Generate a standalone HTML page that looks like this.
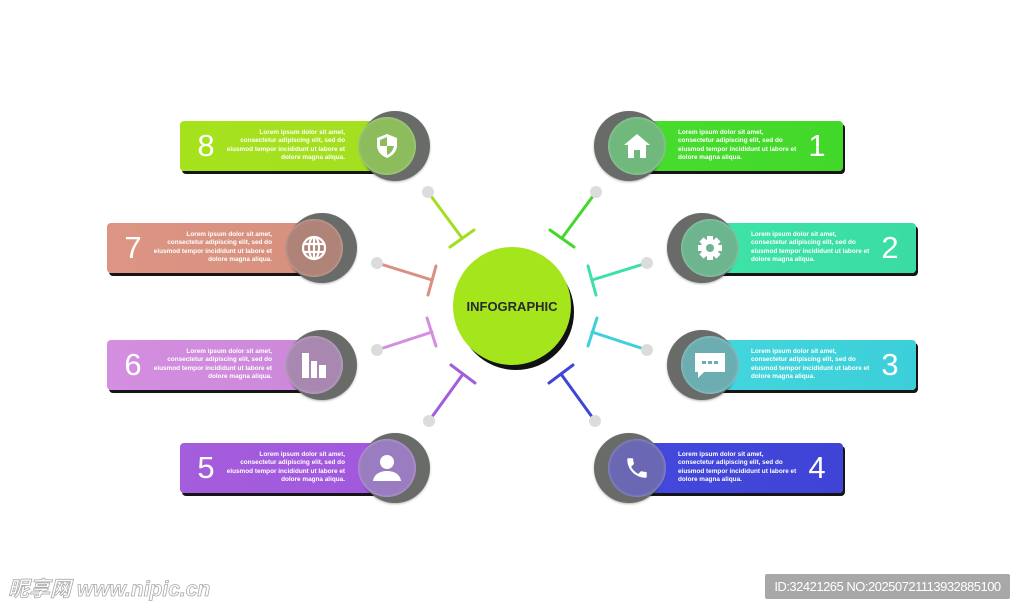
<!DOCTYPE html>
<html><head><meta charset="utf-8"><style>
body{margin:0;width:1024px;height:614px;background:#fff;position:relative;overflow:hidden;font-family:"Liberation Sans",sans-serif}
.card{position:absolute;height:50px;border-radius:4px;box-shadow:2px 3px 0 #151515;color:#fff}
.txt{position:absolute;top:8px;font-size:6.4px;font-weight:bold;line-height:8.4px;white-space:nowrap}
.num{position:absolute;top:6px;font-size:31px;line-height:38px;color:#fff;width:24px;text-align:center}
.oc{position:absolute;width:70px;height:70px;border-radius:50%;background:#696b69;box-shadow:0 1px 2px rgba(0,0,0,.3)}
.ic{position:absolute;width:58px;height:58px;border-radius:50%;display:flex;align-items:center;justify-content:center;box-shadow:0 0 3px rgba(255,255,255,.4) inset}
</style></head><body>

<svg style="position:absolute;left:0;top:0" width="1024" height="614">
<circle cx="516" cy="312" r="58" fill="#111"/>
<circle cx="512" cy="306" r="59" fill="#a4e51c"/>
<text x="512" y="311" text-anchor="middle" font-family="Liberation Sans" font-weight="bold" font-size="13" fill="#2a2a2a">INFOGRAPHIC</text>
<g stroke-width="3" stroke-linecap="round" fill="none">
<g stroke="#44d82c"><line x1="596" y1="192" x2="562" y2="238"/><line x1="574" y1="247" x2="550" y2="230"/></g>
<g stroke="#3de0a8"><line x1="647" y1="263" x2="592" y2="280"/><line x1="596" y1="295" x2="588" y2="266"/></g>
<g stroke="#3fd0dc"><line x1="647" y1="350" x2="592" y2="332"/><line x1="588" y1="346" x2="597" y2="318"/></g>
<g stroke="#3f46d6"><line x1="595" y1="421" x2="561" y2="374"/><line x1="549" y1="383" x2="573" y2="365"/></g>
<g stroke="#a4dd20"><line x1="428" y1="192" x2="462" y2="238"/><line x1="450" y1="247" x2="474" y2="230"/></g>
<g stroke="#d89080"><line x1="377" y1="263" x2="432" y2="280"/><line x1="428" y1="295" x2="436" y2="266"/></g>
<g stroke="#d48ee0"><line x1="377" y1="350" x2="432" y2="332"/><line x1="436" y1="346" x2="427" y2="318"/></g>
<g stroke="#a25ddc"><line x1="429" y1="421" x2="463" y2="374"/><line x1="475" y1="383" x2="451" y2="365"/></g>
</g>
<g fill="#dcdcdc"><circle cx="596" cy="192" r="6"/><circle cx="647" cy="263" r="6"/><circle cx="647" cy="350" r="6"/><circle cx="595" cy="421" r="6"/><circle cx="428" cy="192" r="6"/><circle cx="377" cy="263" r="6"/><circle cx="377" cy="350" r="6"/><circle cx="429" cy="421" r="6"/></g>
</svg>

<!-- Left cards -->
<div class="card" style="left:180px;top:121px;width:215px;background:linear-gradient(90deg,#a6e21c,#a4df20)"><div class="num" style="left:14px">8</div><div class="txt" style="right:50px;text-align:right">Lorem ipsum dolor sit amet,<br>consectetur adipiscing elit, sed do<br>eiusmod tempor incididunt ut labore et<br>dolore magna aliqua.</div></div>
<div class="oc" style="left:360px;top:111px"></div>
<div class="ic" style="left:358px;top:117px;background:#8cbc5c"><svg width="24" height="26" viewBox="0 0 24 26"><path d="M12 1L2 5v7c0 7 5 11 10 13 5-2 10-6 10-13V5z" fill="#fff"/><path d="M12 4v9H5c0-1 0-1 0-1V7zM12 13h7c-1 5-4 8-7 9z" fill="#8cbc5c"/></svg></div>

<div class="card" style="left:107px;top:223px;width:215px;background:linear-gradient(90deg,#dc9484,#d8907e)"><div class="num" style="left:14px">7</div><div class="txt" style="right:50px;text-align:right">Lorem ipsum dolor sit amet,<br>consectetur adipiscing elit, sed do<br>eiusmod tempor incididunt ut labore et<br>dolore magna aliqua.</div></div>
<div class="oc" style="left:287px;top:213px"></div>
<div class="ic" style="left:285px;top:219px;background:#b08378"><svg width="28" height="28" viewBox="0 0 28 28" fill="none" stroke="#fff" stroke-width="2.2"><circle cx="14" cy="14" r="11"/><ellipse cx="14" cy="14" rx="5" ry="11"/><line x1="3" y1="10" x2="25" y2="10"/><line x1="3" y1="18" x2="25" y2="18"/><line x1="14" y1="3" x2="14" y2="25"/></svg></div>

<div class="card" style="left:107px;top:340px;width:215px;background:linear-gradient(90deg,#d48ee0,#cc88da)"><div class="num" style="left:14px">6</div><div class="txt" style="right:50px;text-align:right">Lorem ipsum dolor sit amet,<br>consectetur adipiscing elit, sed do<br>eiusmod tempor incididunt ut labore et<br>dolore magna aliqua.</div></div>
<div class="oc" style="left:287px;top:330px"></div>
<div class="ic" style="left:285px;top:336px;background:#a888b0"><svg width="28" height="28" viewBox="0 0 28 28" fill="#fff"><rect x="2" y="2" width="7" height="25"/><rect x="11" y="10" width="6" height="17"/><rect x="19" y="14" width="7" height="13"/></svg></div>

<div class="card" style="left:180px;top:443px;width:215px;background:linear-gradient(90deg,#a45ddc,#a258de)"><div class="num" style="left:14px">5</div><div class="txt" style="right:50px;text-align:right">Lorem ipsum dolor sit amet,<br>consectetur adipiscing elit, sed do<br>eiusmod tempor incididunt ut labore et<br>dolore magna aliqua.</div></div>
<div class="oc" style="left:360px;top:433px"></div>
<div class="ic" style="left:358px;top:439px;background:#9a7cc0"><svg width="30" height="28" viewBox="0 0 30 28" fill="#fff"><circle cx="15" cy="8" r="7"/><path d="M1 27c1-7 7-10 14-10s13 3 14 10z"/></svg></div>

<!-- Right cards -->
<div class="card" style="left:629px;top:121px;width:214px;background:linear-gradient(90deg,#48dc2e,#42d82a)"><div class="num" style="left:176px">1</div><div class="txt" style="left:49px">Lorem ipsum dolor sit amet,<br>consectetur adipiscing elit, sed do<br>eiusmod tempor incididunt ut labore et<br>dolore magna aliqua.</div></div>
<div class="oc" style="left:594px;top:111px"></div>
<div class="ic" style="left:608px;top:117px;background:#70b87c"><svg width="28" height="26" viewBox="0 0 28 26" fill="#fff"><path d="M14 1L1 12h4v13h6v-8h6v8h6V12h4z"/></svg></div>

<div class="card" style="left:702px;top:223px;width:214px;background:linear-gradient(90deg,#3ee4a8,#3adca4)"><div class="num" style="left:176px">2</div><div class="txt" style="left:49px">Lorem ipsum dolor sit amet,<br>consectetur adipiscing elit, sed do<br>eiusmod tempor incididunt ut labore et<br>dolore magna aliqua.</div></div>
<div class="oc" style="left:667px;top:213px"></div>
<div class="ic" style="left:681px;top:219px;background:#6cb58e"><svg width="28" height="28" viewBox="0 0 28 28"><g fill="#fff"><circle cx="14" cy="14" r="9"/><rect x="11" y="2" width="6" height="24"/><rect x="2" y="11" width="24" height="6"/><rect x="11" y="2" width="6" height="24" transform="rotate(45 14 14)"/><rect x="11" y="2" width="6" height="24" transform="rotate(-45 14 14)"/></g><circle cx="14" cy="14" r="4" fill="#6cb58e"/></svg></div>

<div class="card" style="left:702px;top:340px;width:214px;background:linear-gradient(90deg,#44d6dc,#3ccfda)"><div class="num" style="left:176px">3</div><div class="txt" style="left:49px">Lorem ipsum dolor sit amet,<br>consectetur adipiscing elit, sed do<br>eiusmod tempor incididunt ut labore et<br>dolore magna aliqua.</div></div>
<div class="oc" style="left:667px;top:330px"></div>
<div class="ic" style="left:681px;top:336px;background:#6cadb2"><svg width="32" height="28" viewBox="0 0 32 28"><path d="M1 2h30v19H10l-6 6v-6H1z" fill="#fff"/><g fill="#6cadb2"><rect x="8" y="10" width="4" height="3"/><rect x="14" y="10" width="4" height="3"/><rect x="20" y="10" width="4" height="3"/></g></svg></div>

<div class="card" style="left:629px;top:443px;width:214px;background:linear-gradient(90deg,#4448dc,#3f44d6)"><div class="num" style="left:176px">4</div><div class="txt" style="left:49px">Lorem ipsum dolor sit amet,<br>consectetur adipiscing elit, sed do<br>eiusmod tempor incididunt ut labore et<br>dolore magna aliqua.</div></div>
<div class="oc" style="left:594px;top:433px"></div>
<div class="ic" style="left:608px;top:439px;background:#6a68b2"><svg width="26" height="26" viewBox="0 0 24 24" fill="#fff"><path d="M6.6 10.8c1.4 2.8 3.8 5.1 6.6 6.6l2.2-2.2c.3-.3.7-.4 1-.2 1.1.4 2.3.6 3.6.6.6 0 1 .4 1 1V20c0 .6-.4 1-1 1C10.6 21 3 13.4 3 4c0-.6.4-1 1-1h3.5c.6 0 1 .4 1 1 0 1.3.2 2.5.6 3.6.1.3 0 .7-.2 1z"/></svg></div>

<div style="position:absolute;left:8px;top:573px;font-family:'Liberation Sans','Noto Sans CJK SC',sans-serif;font-size:21px;font-weight:bold;color:#fff;-webkit-text-stroke:0.8px #aaa;font-style:italic">昵享网 www.nipic.cn</div>
<div style="position:absolute;left:765px;top:574px;width:245px;height:25px;background:#a8a8a8;border-radius:2px;color:#fff;font-size:13px;line-height:25px;text-align:center;letter-spacing:-0.5px">ID:32421265 NO:20250721113932885100</div>
</body></html>
